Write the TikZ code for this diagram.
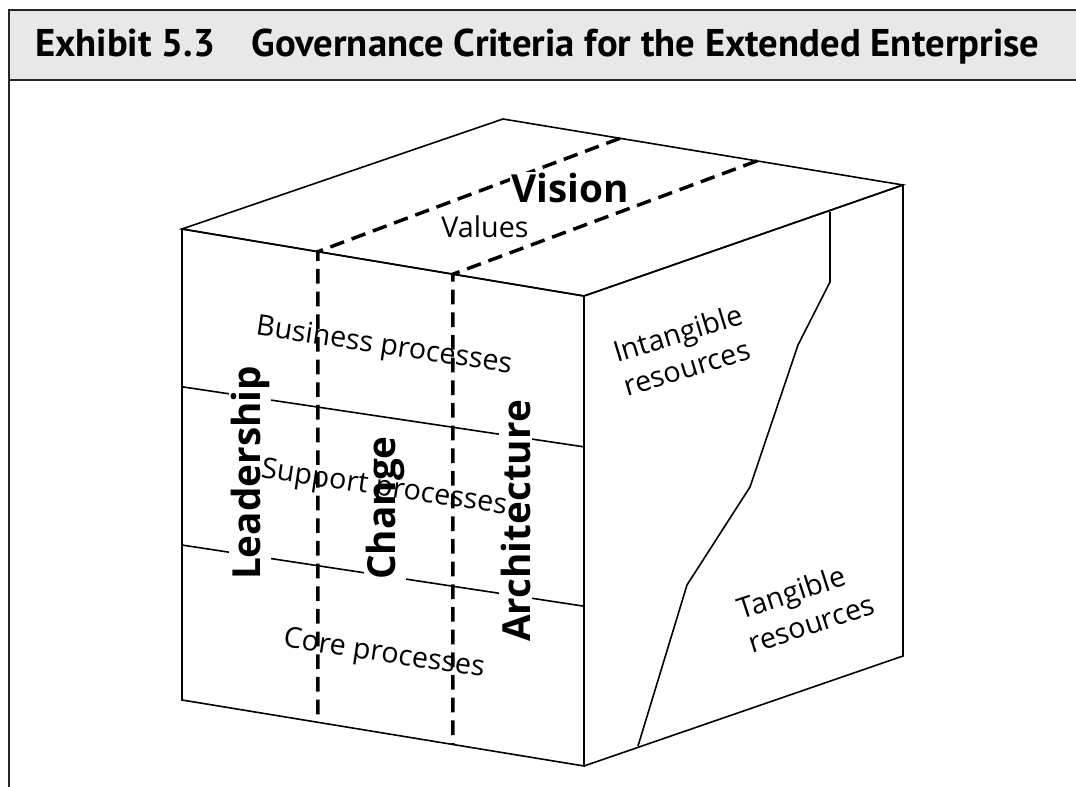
\documentclass[tikz,border=0pt]{standalone}
\usepackage{fontspec}
\setmainfont{Open Sans}
\newfontfamily\titlefont{PT Sans}
\usetikzlibrary{calc}

\begin{document}
\begin{tikzpicture}[
  x=0.75pt, y=-0.75pt,
  frame/.style={line width=1.6pt, draw=black!85},
  edge/.style={line width=1.2pt, line join=miter},
  guide/.style={line width=2.6pt, dash pattern=on 11pt off 6pt},
  facelabel/.style={font=\fontsize{21.5}{27}\selectfont, inner sep=0pt, align=left},
  criterion/.style={font=\bfseries\fontsize{29}{34}\selectfont, fill=white, inner sep=1pt},
]
\useasboundingbox (0,0) rectangle (1076,787);

% Exhibit frame and title bar
\fill[black!9] (9,10) rectangle (1076,80);
\draw[frame] (1076,10) -- (9,10) -- (9,787);
\draw[frame] (9,80) -- (1076,80);
\node[anchor=base west, inner sep=0pt, font=\titlefont\bfseries\fontsize{29}{32}\selectfont] (title) at (35,57)
  {Exhibit 5.3\hspace{0.95em}Governance Criteria for the Extended Enterprise};

% Cube corners
\coordinate (topleft)    at (182,229);
\coordinate (topback)    at (503,119);
\coordinate (topright)   at (903,185);
\coordinate (near)       at (584,296);
\coordinate (bottomleft) at (182,700);
\coordinate (nearbottom) at (584,766);
\coordinate (bottomright) at (903,656);

% Faces
\draw[edge] (topleft) -- (topback) -- (topright) -- (near) -- cycle;
\draw[edge] (topleft) -- (near) -- (nearbottom) -- (bottomleft) -- cycle;
\draw[edge] (near) -- (topright) -- (bottomright) -- (nearbottom);

% Process bands on the front face
\draw[edge] ($(topleft)!0.335!(bottomleft)$) -- ($(near)!0.321!(nearbottom)$);
\draw[edge] ($(topleft)!0.671!(bottomleft)$) -- ($(near)!0.66!(nearbottom)$);

% Dashed guides over top and front
\coordinate (g1) at ($(topleft)!0.338!(near)$);
\coordinate (g2) at ($(topleft)!0.674!(near)$);
\draw[guide] ($(topback)!0.2925!(topright)$) -- (g1) -- ($(bottomleft)!0.338!(nearbottom)$);
\draw[guide] ($(topback)!0.635!(topright)$) -- (g2) -- ($(bottomleft)!0.674!(nearbottom)$);

% Resource divide on the right face
\draw[edge, line join=round] (830,212) -- (830,282) -- (798,345) -- (750,487) -- (687,585) -- (638,746);

% Criteria
\node[criterion, anchor=base] (vision) at (570,203) {Vision};
\node[criterion, anchor=base, rotate=90] (leader) at (260,473) {Leadership};
\node[criterion, anchor=base, rotate=90] (change) at (395,508) {Change};
\node[criterion, anchor=base, rotate=90] (archi) at (530,521) {Architecture};

% Face labels
\node[facelabel, anchor=base] (values) at (485,238) {Values};
\node[facelabel, rotate=-8.5] (business) at (384,347) {Business processes};
\node[facelabel, rotate=-8.5] (support) at (384,489) {Support processes};
\node[facelabel, rotate=-8.5] (core) at (384,655) {Core processes};
\node[facelabel, rotate=17] (intangible) at (683,350) {Intangible\\resources};
\node[facelabel, rotate=18] (tangible) at (806,606) {Tangible\\resources};

\end{tikzpicture}
\end{document}
